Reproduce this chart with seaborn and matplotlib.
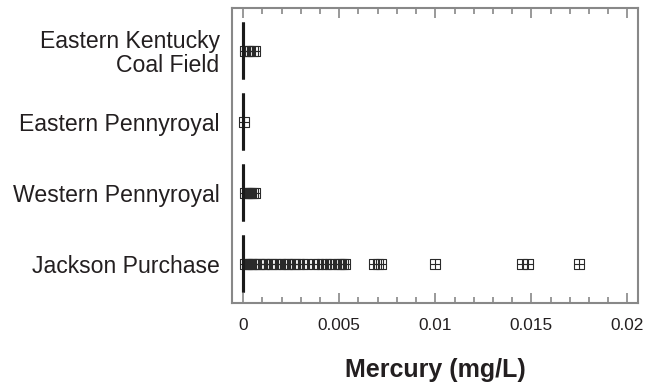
import matplotlib
matplotlib.use("Agg")
import matplotlib.pyplot as plt
from matplotlib.path import Path
from matplotlib.ticker import MultipleLocator, FuncFormatter
import seaborn as sns
import pandas as pd

# ---- data ----
regions = ["Eastern Kentucky\nCoal Field", "Eastern Pennyroyal",
           "Western Pennyroyal", "Jackson Purchase"]

ekcf_values = [0.0] * 60 + [0.0001, 0.0002, 0.0003, 0.0005, 0.0006]
ep_values = [0.0] * 40 + [0.00002]
wp_values = [0.0] * 60 + [0.0001, 0.0002, 0.0003, 0.0004, 0.0005, 0.0006]
jp_values = [0.0] * 200 + [
    0.0001, 0.0002, 0.0003, 0.0004, 0.0005, 0.0006, 0.0008, 0.0009,
    0.0011, 0.0012, 0.0014, 0.0015, 0.0017, 0.0019, 0.0021, 0.0023,
    0.0024, 0.0026, 0.0027, 0.0029, 0.0031, 0.0033, 0.0037, 0.0039,
    0.0041, 0.0043, 0.0045, 0.0047, 0.0050, 0.0051, 0.0052, 0.0053,
    0.0068, 0.0070, 0.0072, 0.0100, 0.0145, 0.0148, 0.0175]

x_ticks = [0, 0.005, 0.01, 0.015, 0.02]
x_label = "Mercury (mg/L)"

rows = []
for reg, vals in zip(regions, [ekcf_values, ep_values, wp_values, jp_values]):
    for v in vals:
        rows.append({"region": reg, "value": v})
df = pd.DataFrame(rows)

# ---- style ----
sns.set_theme(style="white")
plt.rcParams["font.family"] = ["Liberation Sans", "DejaVu Sans"]
text_color = "#231f20"
frame_color = "#888888"

fig = plt.figure(figsize=(6.47, 3.87), dpi=100)
ax = fig.add_axes([232 / 647, 1 - 303 / 387, (638 - 232) / 647, (303 - 8) / 387])

# boxed-plus marker
boxplus = Path(
    [(-1, -1), (1, -1), (1, 1), (-1, 1), (-1, -1),
     (0, -1), (0, 1), (-1, 0), (1, 0)],
    [Path.MOVETO, Path.LINETO, Path.LINETO, Path.LINETO, Path.CLOSEPOLY,
     Path.MOVETO, Path.LINETO, Path.MOVETO, Path.LINETO])

sns.boxplot(data=df, x="value", y="region", order=regions, orient="h",
            color="white", linecolor="#1a1a1a", linewidth=2.2, width=0.8,
            showcaps=False,
            flierprops=dict(marker=boxplus, markersize=6.5,
                            markerfacecolor="none", markeredgecolor="#2a2a2a",
                            markeredgewidth=0.8),
            ax=ax)

ax.set_xlim(-0.00058, 0.02055)
ax.set_ylim(3.55, -0.6)
ax.set_xticks(x_ticks)

ax.xaxis.set_minor_locator(MultipleLocator(0.001))
ax.xaxis.set_major_formatter(FuncFormatter(lambda v, p: "%g" % round(v, 6)))
ax.tick_params(axis="x", which="both", direction="in", top=True, bottom=True,
               color=frame_color, width=1.2, labelcolor=text_color,
               labelsize=12.4, pad=11)
ax.tick_params(axis="x", which="major", length=7)
ax.tick_params(axis="x", which="minor", length=4)
ax.tick_params(axis="y", length=0, labelcolor=text_color, labelsize=16.6, pad=9)
for lab in ax.get_yticklabels():
    lab.set_linespacing(1.05)

for s in ax.spines.values():
    s.set_visible(True)
    s.set_color(frame_color)
    s.set_linewidth(1.5)

ax.set_ylabel("")
ax.set_xlabel(x_label, fontsize=18, fontweight="bold", color=text_color, labelpad=18)

fig.savefig("out.png", dpi=100)
